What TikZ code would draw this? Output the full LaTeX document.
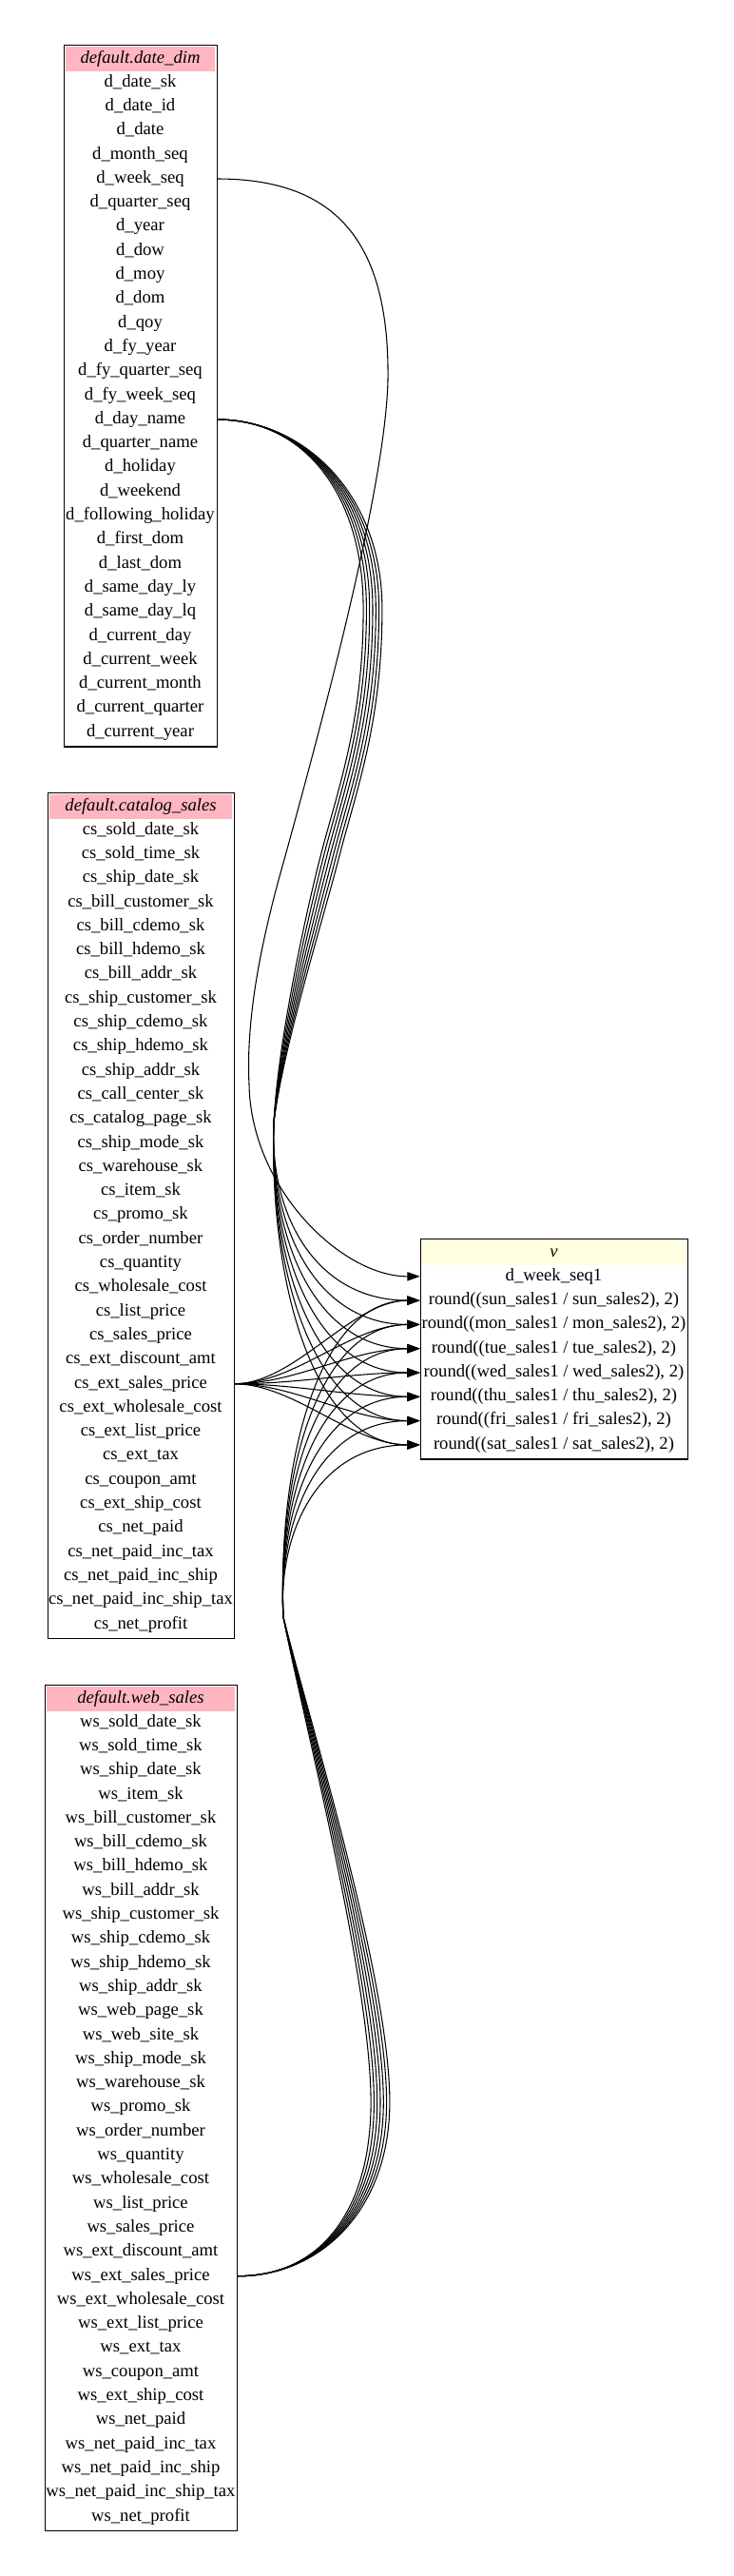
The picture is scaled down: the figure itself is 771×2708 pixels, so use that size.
\documentclass[tikz,border=0pt]{standalone}
\usepackage{fontspec}
\setmainfont{Liberation Serif}
\usetikzlibrary{arrows.meta}
\definecolor{hdrpink}{HTML}{FFB6C1}
\definecolor{hdryellow}{HTML}{FFFFE0}
\begin{document}
\begin{tikzpicture}[x=0.75pt,y=-0.75pt,
  every node/.style={font=\fontsize{14}{16}\selectfont},
  fieldrow/.style={inner sep=0pt, minimum height=18.9pt, text height=9.5pt, text depth=3pt},
  tablebox/.style={draw=black, line width=0.9pt, inner sep=0pt, anchor=north west},
  tablehdr/.style={inner sep=0pt, minimum height=19.5pt, text height=9.5pt, text depth=3pt, font=\fontsize{14}{16}\selectfont\itshape},
  edge/.style={draw=black, line width=0.8pt, -{Triangle[length=10pt,width=7pt]}}]
\useasboundingbox (0,0) rectangle (771,2708);

% ---------- default.date_dim ----------
\node[tablehdr, fill=hdrpink, minimum width=117.75pt] (ddh) at (147.5,62) {default.date\_dim};
\node[tablebox, minimum width=120.75pt, minimum height=553.05pt] (dd) at (67,47) {};
\foreach \f [count=\i] in {d\_date\_sk, d\_date\_id, d\_date, d\_month\_seq, d\_week\_seq, d\_quarter\_seq, d\_year, d\_dow, d\_moy, d\_dom, d\_qoy, d\_fy\_year, d\_fy\_quarter\_seq, d\_fy\_week\_seq, d\_day\_name, d\_quarter\_name, d\_holiday, d\_weekend, d\_following\_holiday, d\_first\_dom, d\_last\_dom, d\_same\_day\_ly, d\_same\_day\_lq, d\_current\_day, d\_current\_week, d\_current\_month, d\_current\_quarter, d\_current\_year}
  \node[fieldrow, minimum width=120.75pt] (dd\i) at (147.5,{61.5+\i*25.3}) {\f};

% ---------- default.catalog_sales ----------
\node[tablehdr, fill=hdrpink, minimum width=144pt] (csh) at (148,848) {default.catalog\_sales};
\node[tablebox, minimum width=147pt, minimum height=666.9pt] (cs) at (50,833) {};
\foreach \f [count=\i] in {cs\_sold\_date\_sk, cs\_sold\_time\_sk, cs\_ship\_date\_sk, cs\_bill\_customer\_sk, cs\_bill\_cdemo\_sk, cs\_bill\_hdemo\_sk, cs\_bill\_addr\_sk, cs\_ship\_customer\_sk, cs\_ship\_cdemo\_sk, cs\_ship\_hdemo\_sk, cs\_ship\_addr\_sk, cs\_call\_center\_sk, cs\_catalog\_page\_sk, cs\_ship\_mode\_sk, cs\_warehouse\_sk, cs\_item\_sk, cs\_promo\_sk, cs\_order\_number, cs\_quantity, cs\_wholesale\_cost, cs\_list\_price, cs\_sales\_price, cs\_ext\_discount\_amt, cs\_ext\_sales\_price, cs\_ext\_wholesale\_cost, cs\_ext\_list\_price, cs\_ext\_tax, cs\_coupon\_amt, cs\_ext\_ship\_cost, cs\_net\_paid, cs\_net\_paid\_inc\_tax, cs\_net\_paid\_inc\_ship, cs\_net\_paid\_inc\_ship\_tax, cs\_net\_profit}
  \node[fieldrow, minimum width=147pt] (cs\i) at (148,{847.5+\i*25.3}) {\f};

% ---------- default.web_sales ----------
\node[tablehdr, fill=hdrpink, minimum width=148.5pt] (wsh) at (148,1786) {default.web\_sales};
\node[tablebox, minimum width=151.5pt, minimum height=666.9pt] (ws) at (47,1771) {};
\foreach \f [count=\i] in {ws\_sold\_date\_sk, ws\_sold\_time\_sk, ws\_ship\_date\_sk, ws\_item\_sk, ws\_bill\_customer\_sk, ws\_bill\_cdemo\_sk, ws\_bill\_hdemo\_sk, ws\_bill\_addr\_sk, ws\_ship\_customer\_sk, ws\_ship\_cdemo\_sk, ws\_ship\_hdemo\_sk, ws\_ship\_addr\_sk, ws\_web\_page\_sk, ws\_web\_site\_sk, ws\_ship\_mode\_sk, ws\_warehouse\_sk, ws\_promo\_sk, ws\_order\_number, ws\_quantity, ws\_wholesale\_cost, ws\_list\_price, ws\_sales\_price, ws\_ext\_discount\_amt, ws\_ext\_sales\_price, ws\_ext\_wholesale\_cost, ws\_ext\_list\_price, ws\_ext\_tax, ws\_coupon\_amt, ws\_ext\_ship\_cost, ws\_net\_paid, ws\_net\_paid\_inc\_tax, ws\_net\_paid\_inc\_ship, ws\_net\_paid\_inc\_ship\_tax, ws\_net\_profit}
  \node[fieldrow, minimum width=151.5pt] (ws\i) at (148,{1785.5+\i*25.3}) {\f};

% ---------- v ----------
\node[tablehdr, fill=hdryellow, minimum width=207.75pt] (vh) at (582.5,1317) {v};
\node[tablebox, minimum width=210.75pt, minimum height=173.55pt] (v) at (442,1302) {};
\foreach \f [count=\i] in {d\_week\_seq1, {round((sun\_sales1 / sun\_sales2), 2)}, {round((mon\_sales1 / mon\_sales2), 2)}, {round((tue\_sales1 / tue\_sales2), 2)}, {round((wed\_sales1 / wed\_sales2), 2)}, {round((thu\_sales1 / thu\_sales2), 2)}, {round((fri\_sales1 / fri\_sales2), 2)}, {round((sat\_sales1 / sat\_sales2), 2)}}
  \node[fieldrow, minimum width=210.75pt] (v\i) at (582.5,{1316.5+\i*25.3}) {\f};

% ---------- edges ----------
% d_week_seq -> d_week_seq1
\draw[edge] (dd5.east) .. controls (350,188) and (410,250) .. (408,400)
  .. controls (405,520) and (330,790) .. (300,900)
  .. controls (280,970) and (258,1060) .. (262,1140)
  .. controls (264,1250) and (360,1342) .. (v1.west);

% d_day_name -> round(...) x7
\foreach \k in {0,...,6} {
  \pgfmathsetmacro\o{(\k-3)*3.3}
  \pgfmathtruncatemacro\t{\k+2}
  \pgfmathsetmacro\yt{1316.5+\t*25.3}
  \draw[edge] (dd15.east) .. controls (320,441) and ({392+\o},520) .. ({392+\o},640)
    .. controls ({392+\o},760) and ({365+\o},830) .. ({347+\o},900)
    .. controls ({329+\o},970) and ({295+0.3*\o},1100) .. (288,1180)
    .. controls (283,{1180+0.5*(\yt-1180)}) and (330,\yt) .. (v\t.west);
}

% cs_ext_sales_price -> round(...) x7
\foreach \k in {0,...,6} {
  \pgfmathtruncatemacro\t{\k+2}
  \pgfmathsetmacro\yt{1316.5+\t*25.3}
  \draw[edge] (cs24.east) .. controls (310,1455) and (370,\yt) .. (v\t.west);
}

% ws_ext_sales_price -> round(...) x7
\foreach \k in {0,...,6} {
  \pgfmathsetmacro\o{(3-\k)*3.3}
  \pgfmathtruncatemacro\t{\k+2}
  \pgfmathsetmacro\yt{1316.5+\t*25.3}
  \draw[edge] (ws24.east) .. controls (340,2393) and ({400+\o},2320) .. ({400+\o},2210)
    .. controls ({400+\o},2080) and ({320+0.3*\o},1800) .. (298,1700)
    .. controls (292,{1700-0.45*(1700-\yt)}) and (330,\yt) .. (v\t.west);
}
\end{tikzpicture}
\end{document}
